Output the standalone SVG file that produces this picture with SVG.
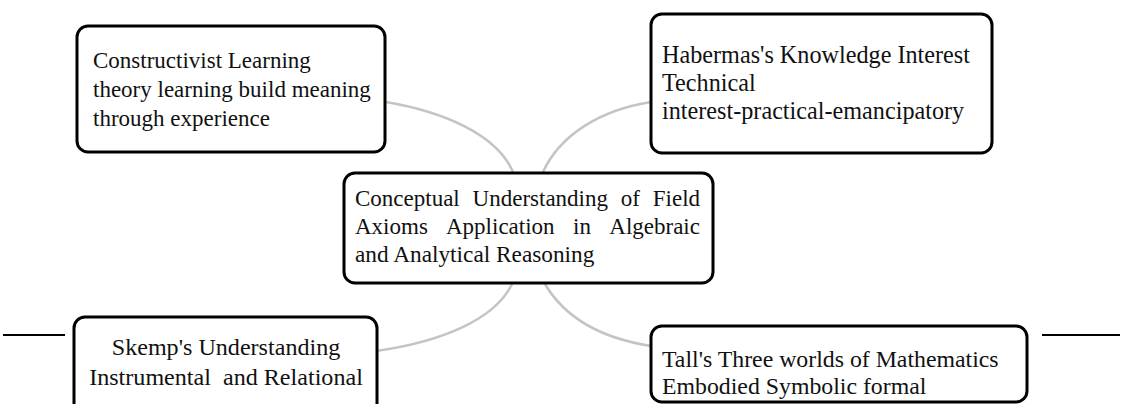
<svg xmlns="http://www.w3.org/2000/svg" width="1122" height="404" viewBox="0 0 1122 404">
<style>
.box{fill:#fff;stroke:#000;stroke-width:3}
.t{font-family:"Liberation Serif","Times New Roman",serif;font-size:23px;fill:#111}
.c{fill:none;stroke:#c4c4c4;stroke-width:2.5}
.rule{stroke:#000;stroke-width:2}
</style>
<rect width="1122" height="404" fill="#fff"/>
<g id="connectors">
<path class="c" d="M386,102 C445,112 497,135 513,172"/>
<path class="c" d="M543,172 C560,135 600,110 651,102"/>
<path class="c" d="M512,284 C495,320 440,342 376,351"/>
<path class="c" d="M545,284 C565,318 600,338 651,346"/>
</g>
<line class="rule" x1="3" y1="335" x2="65" y2="335"/>
<line class="rule" x1="1042" y1="335" x2="1120" y2="335"/>
<g id="constructivist">
<rect class="box" x="77" y="26" width="308" height="126" rx="11"/>
<text class="t" x="93" y="68">Constructivist Learning</text>
<text class="t" x="93" y="97">theory learning build meaning</text>
<text class="t" x="93" y="126">through experience</text>
</g>
<g id="habermas">
<rect class="box" x="651" y="14" width="341" height="139" rx="11"/>
<text class="t" x="662" y="63" style="font-size:24.2px">Habermas's Knowledge Interest</text>
<text class="t" x="662" y="91" style="font-size:24.2px">Technical</text>
<text class="t" x="662" y="119" style="font-size:24.2px">interest-practical-emancipatory</text>
</g>
<g id="center">
<rect class="box" x="344" y="173" width="369" height="110" rx="11"/>
<text class="t" y="206"><tspan x="355">Conceptual</tspan><tspan x="472.6">Understanding</tspan><tspan x="620.8">of</tspan><tspan x="652.8">Field</tspan></text>
<text class="t" y="234"><tspan x="355">Axioms</tspan><tspan x="446">Application</tspan><tspan x="573">in</tspan><tspan x="609.3">Algebraic</tspan></text>
<text class="t" x="355" y="262" style="font-size:23.3px">and Analytical Reasoning</text>
</g>
<g id="skemp">
<rect class="box" x="74" y="317" width="303" height="100" rx="11"/>
<text class="t" x="226" y="355" text-anchor="middle" style="font-size:24.1px">Skemp's Understanding</text>
<text class="t" x="226" y="385" text-anchor="middle" style="font-size:24.1px" xml:space="preserve">Instrumental  and Relational</text>
</g>
<g id="tall">
<rect class="box" x="651" y="326" width="376" height="76" rx="11"/>
<text class="t" x="662" y="367" style="font-size:23.8px">Tall's Three worlds of Mathematics</text>
<text class="t" x="662" y="394" style="font-size:23.8px">Embodied Symbolic formal</text>
</g>
</svg>
